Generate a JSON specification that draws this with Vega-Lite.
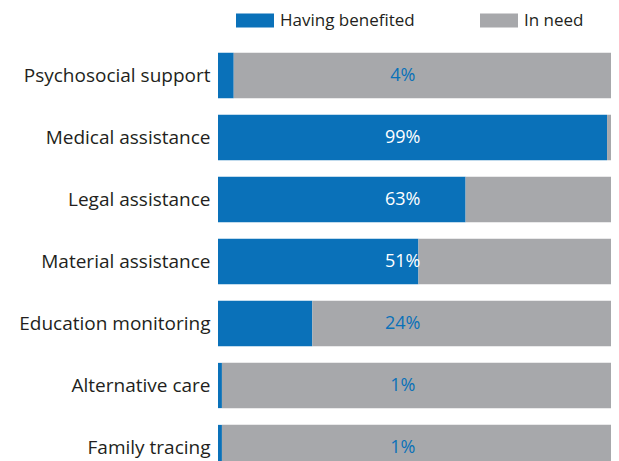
{
  "$schema": "https://vega.github.io/schema/vega-lite/v6.json",
  "width": 393,
  "height": 416.5,
  "autosize": {"type": "none"},
  "padding": {"left": 218, "top": 44.5, "right": 8, "bottom": 0},
  "background": "white",
  "config": {"view": {"stroke": null}, "font": "Open Sans"},
  "data": {
    "values": [
      {"category": "Psychosocial support", "status": "Having benefited", "value": 4, "label": "4%"},
      {"category": "Psychosocial support", "status": "In need", "value": 96, "label": ""},
      {"category": "Medical assistance", "status": "Having benefited", "value": 99, "label": "99%"},
      {"category": "Medical assistance", "status": "In need", "value": 1, "label": ""},
      {"category": "Legal assistance", "status": "Having benefited", "value": 63, "label": "63%"},
      {"category": "Legal assistance", "status": "In need", "value": 37, "label": ""},
      {"category": "Material assistance", "status": "Having benefited", "value": 51, "label": "51%"},
      {"category": "Material assistance", "status": "In need", "value": 49, "label": ""},
      {"category": "Education monitoring", "status": "Having benefited", "value": 24, "label": "24%"},
      {"category": "Education monitoring", "status": "In need", "value": 76, "label": ""},
      {"category": "Alternative care", "status": "Having benefited", "value": 1, "label": "1%"},
      {"category": "Alternative care", "status": "In need", "value": 99, "label": ""},
      {"category": "Family tracing", "status": "Having benefited", "value": 1, "label": "1%"},
      {"category": "Family tracing", "status": "In need", "value": 99, "label": ""}
    ]
  },
  "encoding": {
    "y": {
      "field": "category",
      "type": "nominal",
      "sort": ["Psychosocial support", "Medical assistance", "Legal assistance", "Material assistance", "Education monitoring", "Alternative care", "Family tracing"],
      "scale": {"range": [0, 434], "paddingInner": 0.27, "paddingOuter": 0.135},
      "title": null,
      "axis": {
        "ticks": false,
        "domain": false,
        "labelPadding": 8,
        "labelFontSize": 19,
        "labelColor": "#231f20",
        "labelFont": "Open Sans",
        "labelLimit": 300
      }
    }
  },
  "layer": [
    {
      "mark": {"type": "bar", "clip": true},
      "encoding": {
        "x": {"field": "value", "type": "quantitative", "stack": "zero", "scale": {"domain": [0, 100]}, "axis": null},
        "color": {
          "field": "status",
          "type": "nominal",
          "scale": {"domain": ["Having benefited", "In need"], "range": ["#0a71b9", "#a7a8ab"]},
          "legend": {
            "orient": "none",
            "legendX": 18,
            "legendY": -43,
            "direction": "horizontal",
            "title": null,
            "symbolType": "M-1,-0.37H1V0.37H-1Z",
            "symbolSize": 1444,
            "symbolStrokeWidth": 0,
            "labelFontSize": 17,
            "labelColor": "#231f20",
            "labelFont": "Open Sans",
            "columnPadding": 65,
            "labelOffset": 6
          }
        },
        "order": {"field": "status", "sort": "ascending"}
      }
    },
    {
      "transform": [{"filter": "datum.status == 'Having benefited'"}],
      "mark": {"type": "text", "fontSize": 18, "align": "center", "baseline": "middle", "clip": true},
      "encoding": {
        "x": {"datum": 47, "type": "quantitative"},
        "text": {"field": "label"},
        "color": {"condition": {"test": "datum.value > 47", "value": "white"}, "value": "#0a71b9"}
      }
    }
  ]
}
